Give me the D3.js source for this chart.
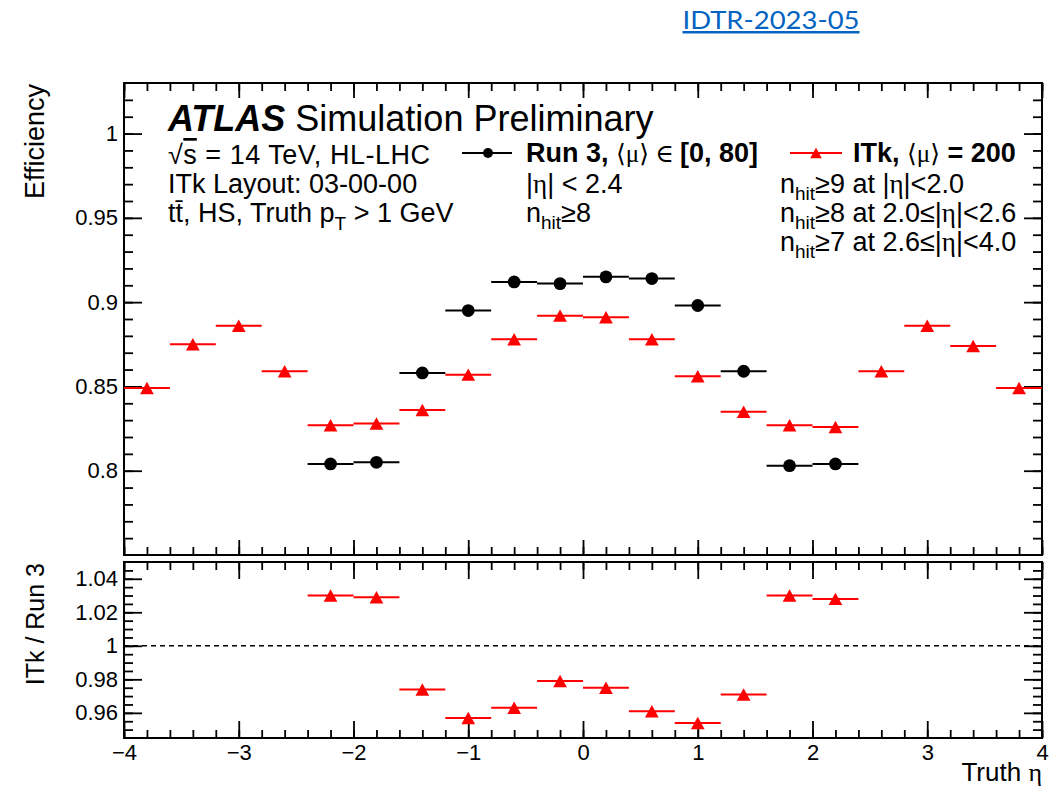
<!DOCTYPE html>
<html>
<head>
<meta charset="utf-8">
<script src="https://cdn.jsdelivr.net/npm/d3@7"></script>
<style>
	body { margin: 0; background: #fff; }
	text { font-family: "Liberation Sans", Arial, sans-serif; fill: #000; }
	.sym { font-family: "Liberation Serif", "DejaVu Serif", serif; }
</style>
</head>
<body>
<script>

// eta bin centres, bins are 0.4 wide
var etaBins = [-3.8, -3.4, -3.0, -2.6, -2.2, -1.8, -1.4, -1.0, -0.6, -0.2,
	0.2, 0.6, 1.0, 1.4, 1.8, 2.2, 2.6, 3.0, 3.4, 3.8];
var itkEff = [0.849, 0.875, 0.886, 0.859, 0.827, 0.828, 0.836, 0.857, 0.878, 0.892,
	0.891, 0.878, 0.856, 0.835, 0.827, 0.826, 0.859, 0.886, 0.874, 0.849];

var run3Bins = [-2.2, -1.8, -1.4, -1.0, -0.6, -0.2, 0.2, 0.6, 1.0, 1.4, 1.8, 2.2];
var run3Eff = [0.804, 0.805, 0.858, 0.895, 0.912, 0.911, 0.915, 0.914, 0.898, 0.859, 0.803, 0.804];
var ratioVals = [1.030, 1.029, 0.974, 0.957, 0.963, 0.979, 0.975, 0.961, 0.954, 0.971, 1.030, 1.028];

var binHalfWidth = 0.2;

var etaTicks = [-4, -3, -2, -1, 0, 1, 2, 3, 4];
var effTicks = [0.8, 0.85, 0.9, 0.95, 1];
var ratioTicks = [0.96, 0.98, 1, 1.02, 1.04];

(function(){

	var w = 1051;
	var h = 789;

	var left = 124, right = 1042;
	var mainTop = 83, mainBottom = 555;
	var ratTop = 562, ratBottom = 738;

	var svg = d3.select('body')
		.append('svg')
		.attr('width', w)
		.attr('height', h);

	svg.append('rect').attr('width', w).attr('height', h).attr('fill', '#fff');

	var x = d3.scaleLinear().domain([-4, 4]).range([left, right]);
	var yMain = d3.scaleLinear().domain([0.75, 1.03]).range([mainBottom, mainTop]);
	var yRat = d3.scaleLinear().domain([0.945, 1.05]).range([ratBottom, ratTop]);

	var etaMinor = d3.range(-40, 41, 2).map(function(d){ return d / 10; });
	var effMinor = d3.range(76, 103).map(function(d){ return d / 100; });
	var ratMinor = d3.range(190, 210).map(function(d){ return d / 200; });

	var numFmt = d3.format('.2~f');

	// draws one set of inward ticks with d3 axis
	function ticks(pos, axisFn, scale, values, size, fmt) {
		var ax = axisFn(scale).tickValues(values).tickSize(-size).tickPadding(6)
			.tickFormat(fmt ? fmt : '');
		var g = svg.append('g')
			.attr('transform', 'translate(' + pos[0] + ',' + pos[1] + ')')
			.call(ax);
		g.select('.domain').remove();
		g.selectAll('line').attr('stroke', '#000').attr('stroke-width', 1.8);
		g.attr('font-size', 22).attr('font-family', '"Liberation Sans", Arial, sans-serif');
		return g;
	}

	// main panel ticks
	ticks([0, mainBottom], d3.axisBottom, x, etaTicks, 15);
	ticks([0, mainBottom], d3.axisBottom, x, etaMinor, 8);
	ticks([0, mainTop], d3.axisTop, x, etaTicks, 15);
	ticks([0, mainTop], d3.axisTop, x, etaMinor, 8);
	ticks([left, 0], d3.axisLeft, yMain, effTicks, 18, numFmt);
	ticks([left, 0], d3.axisLeft, yMain, effMinor, 9);
	ticks([right, 0], d3.axisRight, yMain, effTicks, 18);
	ticks([right, 0], d3.axisRight, yMain, effMinor, 9);

	// ratio panel ticks
	ticks([0, ratBottom], d3.axisBottom, x, etaTicks, 17, d3.format('d'));
	ticks([0, ratBottom], d3.axisBottom, x, etaMinor, 8);
	ticks([0, ratTop], d3.axisTop, x, etaTicks, 17);
	ticks([0, ratTop], d3.axisTop, x, etaMinor, 8);
	ticks([left, 0], d3.axisLeft, yRat, ratioTicks, 18, numFmt);
	ticks([left, 0], d3.axisLeft, yRat, ratMinor, 9);
	ticks([right, 0], d3.axisRight, yRat, ratioTicks, 18);
	ticks([right, 0], d3.axisRight, yRat, ratMinor, 9);

	// frames
	svg.append('rect')
		.attr('x', left).attr('y', mainTop)
		.attr('width', right - left).attr('height', mainBottom - mainTop)
		.attr('fill', 'none').attr('stroke', '#000').attr('stroke-width', 2);
	svg.append('rect')
		.attr('x', left).attr('y', ratTop)
		.attr('width', right - left).attr('height', ratBottom - ratTop)
		.attr('fill', 'none').attr('stroke', '#000').attr('stroke-width', 2);

	// dashed unity line
	svg.append('line')
		.attr('x1', x(-4)).attr('x2', x(4))
		.attr('y1', yRat(1)).attr('y2', yRat(1))
		.attr('stroke', '#000').attr('stroke-width', 1.5)
		.attr('stroke-dasharray', '5,4');

	var triUp = {
		draw: function(ctx, size) {
			var s = Math.sqrt(size);
			ctx.moveTo(0, -s * 0.5);
			ctx.lineTo(s * 0.55, s * 0.5);
			ctx.lineTo(-s * 0.55, s * 0.5);
			ctx.closePath();
		}
	};

	function drawSeries(bins, vals, yScale, colour, marker) {
		var data = d3.zip(bins, vals);
		var g = svg.append('g');
		g.selectAll('line')
			.data(data)
			.enter()
			.append('line')
			.attr('x1', function(d){ return x(d[0] - binHalfWidth); })
			.attr('x2', function(d){ return x(d[0] + binHalfWidth); })
			.attr('y1', function(d){ return yScale(d[1]); })
			.attr('y2', function(d){ return yScale(d[1]); })
			.attr('stroke', colour)
			.attr('stroke-width', 2);
		if (marker == 'circle') {
			g.selectAll('circle')
				.data(data)
				.enter()
				.append('circle')
				.attr('cx', function(d){ return x(d[0]); })
				.attr('cy', function(d){ return yScale(d[1]); })
				.attr('r', 6.4)
				.attr('fill', colour);
		} else {
			g.selectAll('path')
				.data(data)
				.enter()
				.append('path')
				.attr('d', d3.symbol(triUp, 156))
				.attr('transform', function(d){
					return 'translate(' + x(d[0]) + ',' + yScale(d[1]) + ')';
				})
				.attr('fill', colour);
		}
	}

	drawSeries(run3Bins, run3Eff, yMain, '#000', 'circle');
	drawSeries(etaBins, itkEff, yMain, '#ff0000', 'triangle');
	drawSeries(run3Bins, ratioVals, yRat, '#ff0000', 'triangle');

	// axis titles
	svg.append('text')
		.attr('transform', 'translate(44,84) rotate(-90)')
		.attr('text-anchor', 'end')
		.attr('font-size', 27)
		.text('Efficiency');
	svg.append('text')
		.attr('transform', 'translate(44,563) rotate(-90)')
		.attr('text-anchor', 'end')
		.attr('font-size', 25)
		.text('ITk / Run 3');
	var xt = svg.append('text')
		.attr('x', right).attr('y', 781)
		.attr('text-anchor', 'end')
		.attr('font-size', 26);
	xt.append('tspan').text('Truth ');
	xt.append('tspan').attr('class', 'sym').text('η');

	// ATLAS label block
	var t1 = svg.append('text').attr('x', 168).attr('y', 131).attr('font-size', 36);
	t1.append('tspan').attr('font-weight', 'bold').attr('font-style', 'italic').text('ATLAS');
	t1.append('tspan').text(' Simulation Preliminary');

	var t2 = svg.append('text').attr('x', 168).attr('y', 164).attr('font-size', 27)
		.attr('textLength', 262).attr('lengthAdjust', 'spacing');
	t2.append('tspan').text('√');
	t2.append('tspan').style('text-decoration', 'overline').text('s');
	t2.append('tspan').text(' = 14 TeV, HL-LHC');

	svg.append('text').attr('x', 168).attr('y', 193).attr('font-size', 27)
		.text('ITk Layout: 03-00-00');

	var t4 = svg.append('text').attr('x', 168).attr('y', 222).attr('font-size', 27);
	t4.append('tspan').text('tt\u0304, HS, Truth p');
	t4.append('tspan').attr('font-size', 19).attr('dy', 8).text('T');
	t4.append('tspan').attr('dy', -8).text(' > 1 GeV');

	// legend
	svg.append('line').attr('x1', 462).attr('x2', 512).attr('y1', 153).attr('y2', 153)
		.attr('stroke', '#000').attr('stroke-width', 2);
	svg.append('circle').attr('cx', 488).attr('cy', 153).attr('r', 5).attr('fill', '#000');
	var l1 = svg.append('text').attr('x', 526).attr('y', 162).attr('font-size', 27);
	l1.append('tspan').attr('font-weight', 'bold').text('Run 3, ');
	l1.append('tspan').attr('class', 'sym').attr('font-size', 25).text('⟨μ⟩');
	l1.append('tspan').attr('class', 'sym').attr('font-size', 25).text(' ∈ ');
	l1.append('tspan').attr('font-weight', 'bold').text('[0, 80]');

	svg.append('line').attr('x1', 790).attr('x2', 842).attr('y1', 153).attr('y2', 153)
		.attr('stroke', '#ff0000').attr('stroke-width', 2);
	svg.append('path').attr('d', d3.symbol(triUp, 110))
		.attr('transform', 'translate(816,153)').attr('fill', '#ff0000');
	var l2 = svg.append('text').attr('x', 853).attr('y', 162).attr('font-size', 27);
	l2.append('tspan').attr('font-weight', 'bold').text('ITk, ');
	l2.append('tspan').attr('class', 'sym').attr('font-size', 25).text('⟨μ⟩');
	l2.append('tspan').attr('font-weight', 'bold').text(' = 200');

	function etaText(xp, yp, parts) {
		var t = svg.append('text').attr('x', xp).attr('y', yp).attr('font-size', 27);
		parts.forEach(function(p){
			var s = t.append('tspan').text(p[0]);
			if (p[1] == 'sym') s.attr('class', 'sym');
			if (p[1] == 'sub') s.attr('font-size', 19).attr('dy', 7);
			if (p[1] == 'after') s.attr('dy', -7);
		});
	}

	etaText(526, 193, [['|'], ['η', 'sym'], ['| < 2.4']]);
	etaText(526, 222, [['n'], ['hit', 'sub'], ['≥8', 'after']]);
	etaText(780, 193, [['n'], ['hit', 'sub'], ['≥9 at |', 'after'], ['η', 'sym'], ['|<2.0']]);
	etaText(780, 222, [['n'], ['hit', 'sub'], ['≥8 at 2.0≤|', 'after'], ['η', 'sym'], ['|<2.6']]);
	etaText(780, 251, [['n'], ['hit', 'sub'], ['≥7 at 2.6≤|', 'after'], ['η', 'sym'], ['|<4.0']]);

	// document reference link
	svg.append('text')
		.attr('x', 771).attr('y', 29)
		.attr('text-anchor', 'middle')
		.attr('font-size', 25)
		.style('font-family', 'Lato, "Open Sans", sans-serif')
		.style('fill', '#0563c1')
		.style('text-decoration', 'underline')
		.attr('textLength', 177)
		.attr('lengthAdjust', 'spacingAndGlyphs')
		.text('IDTR-2023-05');

})();

</script>
</body>
</html>
